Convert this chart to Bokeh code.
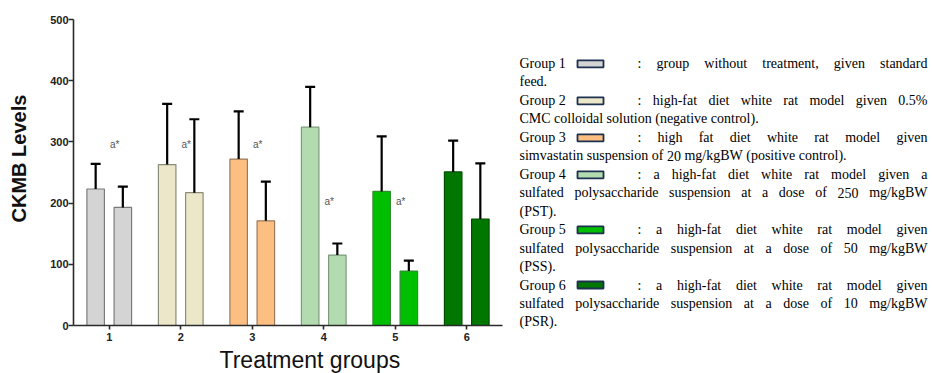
import numpy as np
from bokeh.plotting import figure
from bokeh.models import Range1d, Whisker, TeeHead, ColumnDataSource, FixedTicker, Title
from bokeh.layouts import row
from bokeh.embed import file_html
from bokeh.resources import INLINE
from bokeh.core.properties import value

# ---- data -------------------------------------------------------------
groups = [1, 2, 3, 4, 5, 6]
first_mean = [223, 263, 272, 324, 219, 251]
first_sd = [41, 99, 78, 66, 90, 51]
second_mean = [193, 217, 171, 115, 89, 174]
second_sd = [34, 120, 64, 19, 17, 91]

sig_groups = [1, 2, 3, 4, 5]
sig_level = [296, 296, 296, 202, 202]
sig_text = ["a*", "a*", "a*", "a*", "a*"]

y_ticks = [0, 100, 200, 300, 400, 500]

fill_colors = ["#d4d4d4", "#ece7c9", "#fdbe82", "#b2dcb0", "#00bf00", "#007800"]
edge_colors = ["#7a7a7a", "#8c8a78", "#9a7a5a", "#7d9a7b", "#2f8f2f", "#004f00"]

group_names = ["Group 1", "Group 2", "Group 3", "Group 4", "Group 5", "Group 6"]
group_lines = [
    [": group without treatment, given standard", "feed."],
    [": high-fat diet white rat model given 0.5%", "CMC colloidal solution (negative control)."],
    [": high fat diet white rat model given", "simvastatin suspension of 20 mg/kgBW (positive control)."],
    [": a high-fat diet white rat model given a",
     "sulfated polysaccharide suspension at a dose of 250 mg/kgBW", "(PST)."],
    [": a high-fat diet white rat model given",
     "sulfated polysaccharide suspension at a dose of 50 mg/kgBW", "(PSS)."],
    [": a high-fat diet white rat model given",
     "sulfated polysaccharide suspension at a dose of 10 mg/kgBW", "(PSR)."],
]

# ---- chart --------------------------------------------------------------
W_CHART, H = 505, 373
p = figure(width=W_CHART, height=H, x_range=Range1d(0.5, 6.5), y_range=Range1d(0, 500),
           output_backend="svg", toolbar_location=None,
           min_border_left=72, min_border_right=3, min_border_top=19, min_border_bottom=48)
p.xgrid.visible = False
p.ygrid.visible = False
p.outline_line_color = None

offset, bar_w = 0.19, 0.245
g = np.array(groups, dtype=float)
xs = np.concatenate([g - offset, g + offset])
tops = np.concatenate([first_mean, second_mean])
uppers = tops + np.concatenate([first_sd, second_sd])
src = ColumnDataSource(dict(x=xs, top=tops, upper=uppers,
                            fill=fill_colors * 2, edge=edge_colors * 2))

p.vbar(x="x", top="top", bottom=0, width=bar_w, fill_color="fill",
       line_color="edge", line_width=1.2, source=src)

err = Whisker(base="x", lower="top", upper="upper", source=src,
              line_color="black", line_width=2.2,
              upper_head=TeeHead(size=10, line_width=2.2, line_color="black"),
              lower_head=None, level="overlay")
p.add_layout(err)

p.text(x=np.array(sig_groups) + 0.075, y=sig_level, text=sig_text,
       text_font=value("Liberation Sans"), text_font_size=value("10px"),
       text_color="#555555", text_align="center", text_baseline="middle")

p.yaxis.ticker = FixedTicker(ticks=y_ticks)
p.xaxis.ticker = FixedTicker(ticks=groups)
for ax in (p.xaxis[0], p.yaxis[0]):
    ax.axis_line_width = 1.6
    ax.axis_line_color = "#2a2a2a"
    ax.major_tick_line_width = 1.6
    ax.major_tick_line_color = "#2a2a2a"
    ax.minor_tick_line_color = None
    ax.major_tick_in = 0
    ax.major_label_text_font = "Liberation Sans"
    ax.major_label_text_font_style = "bold"
    ax.major_label_text_font_size = "11px"
    ax.major_label_text_color = "#222222"
p.yaxis.major_tick_out = 5
p.yaxis.major_label_standoff = 0
p.xaxis.major_tick_out = 4
p.xaxis.major_label_standoff = 3

# a blank axis label leaves a small gutter between tick labels and the title
p.yaxis.axis_label = "\u00a0"
p.yaxis.axis_label_text_font_size = "9px"
p.yaxis.axis_label_standoff = 0

# axis titles as side-panel titles, start-aligned with a pixel offset
p.add_layout(Title(text="CKMB Levels", align="left", offset=103, standoff=10,
                   text_font="Liberation Sans", text_font_style="bold",
                   text_font_size="20px", text_color="#111111"), "left")
p.add_layout(Title(text="Treatment groups", align="left", offset=146, standoff=2,
                   text_font="Liberation Sans", text_font_style="normal",
                   text_font_size="23px", text_color="#111111"), "below")

# ---- legend panel -------------------------------------------------------
W_LEG = 932 - W_CHART
lg = figure(width=W_LEG, height=H, x_range=Range1d(W_CHART, 932), y_range=Range1d(H, 0),
            output_backend="svg", toolbar_location=None, min_border=0,
            x_axis_type=None, y_axis_type=None)
lg.xgrid.visible = False
lg.ygrid.visible = False
lg.outline_line_color = None

# keep each panel's frame independent of its neighbour
for fig in (p, lg):
    try:
        fig.frame_align = False
    except Exception:
        pass

# Times-compatible advance widths (per 1000 em)
TIMES = {
    " ": 250, ".": 250, ",": 250, ":": 278, "(": 333, ")": 333, "-": 333, "%": 833, "/": 278,
    "a": 444, "b": 500, "c": 444, "d": 500, "e": 444, "f": 333, "g": 500, "h": 500, "i": 278,
    "j": 278, "k": 500, "l": 278, "m": 778, "n": 500, "o": 500, "p": 500, "q": 500, "r": 333,
    "s": 389, "t": 278, "u": 500, "v": 500, "w": 722, "x": 500, "y": 500, "z": 444,
    "A": 722, "B": 667, "C": 667, "D": 722, "E": 611, "F": 556, "G": 722, "H": 722, "I": 333,
    "J": 389, "K": 722, "L": 611, "M": 889, "N": 722, "O": 722, "P": 556, "Q": 722, "R": 667,
    "S": 556, "T": 611, "U": 722, "V": 722, "W": 944, "X": 722, "Y": 722, "Z": 611,
}
FONT_PX = 14.0


def text_width(s):
    return sum(TIMES.get(ch, 500) for ch in s) / 1000.0 * FONT_PX


def place_words(text, x0, x1, justify):
    words = text.split(" ")
    widths = [text_width(w) for w in words]
    if justify and len(words) > 1:
        gap = (x1 - x0 - sum(widths)) / (len(words) - 1)
    else:
        gap = text_width(" ")
    out, x = [], x0
    for w, wd in zip(words, widths):
        out.append(x)
        x += wd + gap
    return words, out


text_left, colon_left, text_right = 519, 637, 927
swatch_cx, swatch_w, swatch_h = 590, 26, 7
first_y, line_step, para_gap = 63.3, 18.1, 0.8

word_x, word_y, word_t = [], [], []
sw_y = []
line_idx = 0
for gi, (name, lines) in enumerate(zip(group_names, group_lines)):
    for li, line in enumerate(lines):
        y = first_y + line_idx * line_step + gi * para_gap
        last = li == len(lines) - 1
        if li == 0:
            word_x.append(text_left)
            word_y.append(y)
            word_t.append(name)
            sw_y.append(y)
            ws, wx = place_words(line, colon_left, text_right, not last)
        else:
            ws, wx = place_words(line, text_left, text_right, not last)
        word_t += ws
        word_x += wx
        word_y += [y] * len(ws)
        line_idx += 1

lg.text(x=word_x, y=word_y, text=word_t, text_font=value("Liberation Serif"),
        text_font_size=value("14px"), text_color="black",
        text_align="left", text_baseline="middle")
lg.rect(x=[swatch_cx] * len(sw_y), y=sw_y, width=swatch_w, height=swatch_h,
        fill_color=fill_colors, line_color="#1e3050", line_width=1.8)

layout = row(p, lg)
open("out.html", "w").write(file_html(layout, INLINE))
